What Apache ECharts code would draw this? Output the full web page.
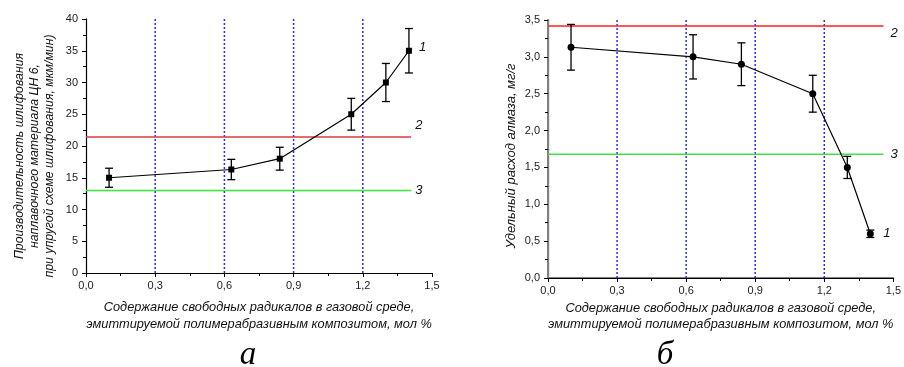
<!DOCTYPE html>
<html><head><meta charset="utf-8">
<script src="https://cdn.jsdelivr.net/npm/echarts@6/dist/echarts.min.js"></script>
<style>html,body{margin:0;padding:0;background:#fff}#c{width:904px;height:367px}</style>
</head><body><div id="c"></div>
<script>
// ---- data ----
const xValues = [0.1, 0.63, 0.84, 1.15, 1.3, 1.4];
const prodValues = [15, 16.3, 18, 25, 30, 35];
const prodErrors = [1.5, 1.6, 1.8, 2.5, 3.0, 3.5];
const prodLine2 = 21.4;
const prodLine3 = 13;
const prodLineEnd = 1.41;
const consValues = [3.13, 3.0, 2.9, 2.5, 1.5, 0.6];
const consErrors = [0.31, 0.3, 0.29, 0.25, 0.15, 0.05];
const consLine2 = 3.42;
const consLine3 = 1.68;
const consLineEnd = 1.457;
const xTicks = [0, 0.3, 0.6, 0.9, 1.2, 1.5];
const gridXs = [0.3, 0.6, 0.9, 1.2];
const prodTicks = [0, 5, 10, 15, 20, 25, 30, 35, 40];
const consTicks = [0, 0.5, 1.0, 1.5, 2.0, 2.5, 3.0, 3.5];
const curveLabel = '1', line2Label = '2', line3Label = '3';
const panelLabels = ['а', 'б'];
const xName = 'Содержание свободных радикалов в газовой среде,\nэмиттируемой полимерабразивным композитом, мол %';
const prodName = 'Производительность шлифования\nнаплавочного материала ЦН 6,\nпри упругой схеме шлифования, мкм/мин)';
const consName = 'Удельный расход алмаза, мг/г';

const FONT = '"Liberation Sans", Arial, sans-serif';
const comma = v => v.toFixed(1).replace('.', ',');

function xAxisCfg(gi, axisColor, lineW, nameGap, lh) {
  return {
    type: 'value', gridIndex: gi, min: xTicks[0], max: xTicks[xTicks.length-1], interval: 0.3,
    axisLine: {show: true, onZero: false, lineStyle: {color: axisColor, width: lineW}},
    axisTick: {show: true, inside: false, length: 4, lineStyle: {color: '#000'}},
    minorTick: {show: true, splitNumber: 2, length: 3, lineStyle: {color: '#000'}},
    axisLabel: {formatter: comma, color: '#222', fontFamily: FONT, fontSize: 11, margin: 7},
    splitLine: {show: false},
    name: xName, nameLocation: 'middle', nameGap: nameGap,
    nameTextStyle: {fontFamily: FONT, fontStyle: 'italic', fontSize: 12.8, color: '#111', lineHeight: lh, verticalAlign: 'top'}
  };
}
function frameX(gi, color) {
  return {type: 'value', gridIndex: gi, position: 'top', min: 0, max: 1.5,
    axisLine: {show: true, lineStyle: {color: color}}, axisTick: {show: false}, axisLabel: {show: false}, splitLine: {show: false}};
}
function frameY(gi, color, w, mx) {
  return {type: 'value', gridIndex: gi, position: 'right', min: 0, max: mx,
    axisLine: {show: true, lineStyle: {color: color, width: w}}, axisTick: {show: false}, axisLabel: {show: false}, splitLine: {show: false}};
}
function gridSeries(xi, yi) {
  return {
    type: 'custom', xAxisIndex: xi, yAxisIndex: yi, silent: true, z: 1,
    data: gridXs.map(v => [v, 0]),
    encode: {x: 0, y: 1},
    renderItem: function (params, api) {
      const p = api.coord([api.value(0), 0]);
      const cs = params.coordSys;
      return {type: 'line', shape: {x1: p[0], y1: cs.y, x2: p[0], y2: cs.y + cs.height},
        style: {stroke: '#2a2aff', lineWidth: 1.5, lineDash: [2, 2]}};
    }
  };
}

function errorSeries(xi, yi, vals, errs) {
  return {
    type: 'custom', xAxisIndex: xi, yAxisIndex: yi, silent: true, z: 5,
    data: xValues.map((x, i) => [x, vals[i] - errs[i], vals[i] + errs[i]]),
    encode: {x: 0, y: [1, 2]},
    renderItem: function (params, api) {
      const x = api.value(0);
      const lo = api.coord([x, api.value(1)]);
      const hi = api.coord([x, api.value(2)]);
      const w = 4;
      const st = {stroke: '#000', lineWidth: 1.3};
      return {type: 'group', children: [
        {type: 'line', shape: {x1: lo[0], y1: lo[1], x2: hi[0], y2: hi[1]}, style: st},
        {type: 'line', shape: {x1: hi[0]-w, y1: hi[1], x2: hi[0]+w, y2: hi[1]}, style: st},
        {type: 'line', shape: {x1: lo[0]-w, y1: lo[1], x2: lo[0]+w, y2: lo[1]}, style: st}
      ]};
    }
  };
}
function hLine(xi, yi, v, end, color, txt, off) {
  return {
    type: 'line', xAxisIndex: xi, yAxisIndex: yi, symbol: 'none', silent: true, z: 3,
    data: [[0, v], [end, v]], lineStyle: {color: color, width: 1.5},
    endLabel: {show: true, formatter: txt, color: '#111', fontFamily: FONT, fontStyle: 'italic', fontSize: 13, offset: off, distance: 4}
  };
}
const lblStyle = {fontFamily: FONT, fontStyle: 'italic', fontSize: 13, color: '#111'};

const option = {
  animation: false,
  backgroundColor: '#fff',
  grid: [
    {left: 86, top: 19, width: 346, height: 254, containLabel: false},
    {left: 548, top: 20, width: 350, height: 258, containLabel: false}
  ],
  xAxis: [
    xAxisCfg(0, '#000', 1.2, 26, 17),
    xAxisCfg(1, '#808080', 2, 22, 16),
    frameX(0, '#000'),
    frameX(1, '#000')
  ],
  yAxis: [
    {type: 'value', gridIndex: 0, min: 0, max: 40, interval: 5,
      axisLine: {show: true, onZero: false, lineStyle: {color: '#000', width: 1.2}},
      axisTick: {show: true, length: 4, lineStyle: {color: '#000'}},
      minorTick: {show: true, splitNumber: 2, length: 3, lineStyle: {color: '#000'}},
      axisLabel: {color: '#222', fontFamily: FONT, fontSize: 11, margin: 8},
      splitLine: {show: false},
      name: prodName, nameLocation: 'middle', nameGap: 29,
      nameTextStyle: {fontFamily: FONT, fontStyle: 'italic', fontSize: 12.3, color: '#111', lineHeight: 15, padding: [0, 20, 0, 0]}},
    {type: 'value', gridIndex: 1, min: 0, max: 3.5, interval: 0.5,
      axisLine: {show: true, onZero: false, lineStyle: {color: '#000', width: 1.2}},
      axisTick: {show: true, length: 4, lineStyle: {color: '#000'}},
      minorTick: {show: true, splitNumber: 2, length: 3, lineStyle: {color: '#000'}},
      axisLabel: {formatter: comma, color: '#222', fontFamily: FONT, fontSize: 11, margin: 8},
      splitLine: {show: false},
      name: consName, nameLocation: 'middle', nameGap: 30,
      nameTextStyle: {fontFamily: FONT, fontStyle: 'italic', fontSize: 13, color: '#111', padding: [0, 14, 0, 0]}},
    frameY(0, '#000', 1, 40),
    frameY(1, '#808080', 2, 3.5)
  ],
  series: [
    gridSeries(0, 0),
    hLine(0, 0, prodLine2, prodLineEnd, '#dd3b3b', line2Label, [0, -12]),
    hLine(0, 0, prodLine3, prodLineEnd, '#33ee33', line3Label, [0, 0]),
    errorSeries(0, 0, prodValues, prodErrors),
    {type: 'line', xAxisIndex: 0, yAxisIndex: 0, z: 6, data: xValues.map((x, i) => [x, prodValues[i]]),
      symbol: 'rect', symbolSize: 6, itemStyle: {color: '#000'}, lineStyle: {color: '#000', width: 1.2},
      endLabel: Object.assign({show: true, formatter: curveLabel, offset: [2, -3]}, lblStyle)},
    gridSeries(1, 1),
    hLine(1, 1, consLine2, consLineEnd, '#ff2020', line2Label, [3, 7]),
    hLine(1, 1, consLine3, consLineEnd, '#44e044', line3Label, [3, 0]),
    errorSeries(1, 1, consValues, consErrors),
    {type: 'line', xAxisIndex: 1, yAxisIndex: 1, z: 6, data: xValues.map((x, i) => [x, consValues[i]]),
      symbol: 'circle', symbolSize: 7, itemStyle: {color: '#000'}, lineStyle: {color: '#000', width: 1.2},
      endLabel: Object.assign({show: true, formatter: curveLabel, offset: [5, 0]}, lblStyle)}
  ],
  graphic: [
    {type: 'text', x: 248, y: 372, style: {text: panelLabels[0], font: 'italic 33px "Liberation Serif", serif', fill: '#000', textAlign: 'center', textVerticalAlign: 'bottom'}},
    {type: 'text', x: 665, y: 372, style: {text: panelLabels[1], font: 'italic 33px "Liberation Serif", serif', fill: '#000', textAlign: 'center', textVerticalAlign: 'bottom'}}
  ]
};
const chart = echarts.init(document.getElementById('c'), null, {renderer: 'canvas'});
chart.setOption(option);
</script></body></html>
